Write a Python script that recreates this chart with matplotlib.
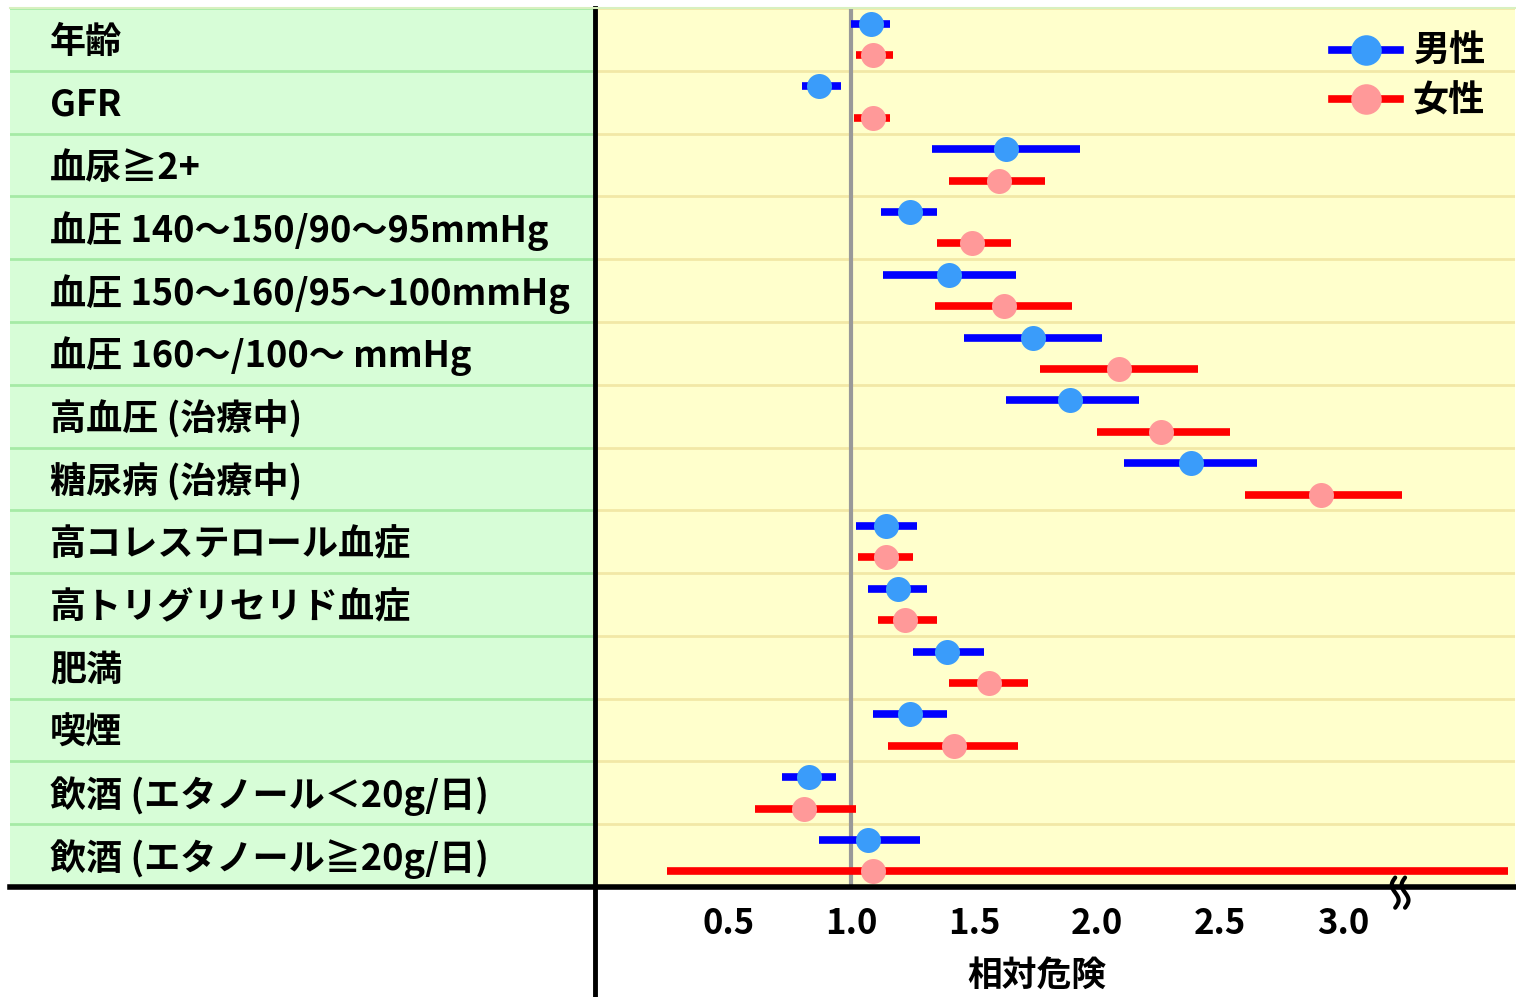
import matplotlib
matplotlib.use("Agg")
import matplotlib.pyplot as plt
import numpy as np
from matplotlib.lines import Line2D

plt.rcParams['font.family'] = ['Noto Sans CJK JP', 'DejaVu Sans']
plt.rcParams['font.weight'] = 'bold'

categories = ["年齢", "GFR", "血尿≧2+", "血圧 140〜150/90〜95mmHg",
              "血圧 150〜160/95〜100mmHg", "血圧 160〜/100〜 mmHg",
              "高血圧 (治療中)", "糖尿病 (治療中)", "高コレステロール血症",
              "高トリグリセリド血症", "肥満", "喫煙",
              "飲酒 (エタノール＜20g/日)", "飲酒 (エタノール≧20g/日)"]

male_rr = [1.08, 0.87, 1.63, 1.24, 1.40, 1.74, 1.89, 2.38, 1.14, 1.19, 1.39, 1.24, 0.83, 1.07]
male_lo = [1.00, 0.80, 1.33, 1.12, 1.13, 1.46, 1.63, 2.11, 1.02, 1.07, 1.25, 1.09, 0.72, 0.87]
male_hi = [1.16, 0.96, 1.93, 1.35, 1.67, 2.02, 2.17, 2.65, 1.27, 1.31, 1.54, 1.39, 0.94, 1.28]

female_rr = [1.09, 1.09, 1.60, 1.49, 1.62, 2.09, 2.26, 2.91, 1.14, 1.22, 1.56, 1.42, 0.81, 1.09]
female_lo = [1.02, 1.01, 1.40, 1.35, 1.34, 1.77, 2.00, 2.60, 1.03, 1.11, 1.40, 1.15, 0.61, 0.25]
female_hi = [1.17, 1.16, 1.79, 1.65, 1.90, 2.41, 2.54, 3.24, 1.25, 1.35, 1.72, 1.68, 1.02, 3.67]

xticks = [0.5, 1.0, 1.5, 2.0, 2.5, 3.0]
xtick_labels = ["0.5", "1.0", "1.5", "2.0", "2.5", "3.0"]
legend_labels = ["男性", "女性"]
xlabel = "相対危険"

W, H = 1516, 997
fig = plt.figure(figsize=(W / 100, H / 100), dpi=100)

top = 8
bottom = 887
ax = fig.add_axes([595 / W, (H - bottom) / H, (1515 - 595) / W, (bottom - top) / H])
axl = fig.add_axes([10 / W, (H - bottom) / H, (593 - 10) / W, (bottom - top) / H])

n = len(categories)
# left label panel
axl.set_facecolor('#d7fdd7')
axl.set_xlim(0, 1)
axl.set_ylim(n, 0)
for i in range(n + 1):
    axl.axhline(i, color='#a6eaa6', lw=2)
for i, c in enumerate(categories):
    axl.text(40 / 583, i + 0.55, c, fontsize=26, fontweight='bold', va='center', ha='left', color='black')
axl.set_xticks([]); axl.set_yticks([])
for s in axl.spines.values():
    s.set_visible(False)

# plot panel
ax.set_facecolor('#ffffcc')
ax.set_xlim(-0.041, 3.699)
ax.set_ylim(n, 0)
for i in range(n + 1):
    ax.axhline(i, color='#f2e8a6', lw=2, zorder=1)
ax.axvline(1.0, color='#999999', lw=3, zorder=2)

y = np.arange(n)
ym = y + 0.25
yf = y + 0.75
ax.hlines(ym, male_lo, male_hi, color='#0000ff', lw=5.5, zorder=3)
ax.plot(male_rr, ym, 'o', color='#3a9cfa', ms=18, mec='none', zorder=4)
ax.hlines(yf, female_lo, female_hi, color='#ff0000', lw=5.5, zorder=3)
ax.plot(female_rr, yf, 'o', color='#ff9999', ms=18, mec='none', zorder=4)

ax.set_yticks([])
ax.set_xticks(xticks)
ax.set_xticklabels(xtick_labels, fontsize=25, fontweight='bold')
ax.tick_params(axis='x', length=0, pad=14)
for s in ax.spines.values():
    s.set_visible(False)

# legend
handles = [Line2D([0], [0], color='#0000ff', lw=5.5, marker='o', ms=22, mfc='#3a9cfa', mec='none'),
           Line2D([0], [0], color='#ff0000', lw=5.5, marker='o', ms=22, mfc='#ff9999', mec='none')]
leg = ax.legend(handles, legend_labels, loc='upper right', frameon=False,
                prop={'size': 26, 'weight': 'bold'}, handlelength=1.9, handletextpad=0.35,
                labelspacing=0.35, borderaxespad=0.3, bbox_to_anchor=(0.995, 1.0))

# frame lines
fig.add_artist(Line2D([10 / W, 1515 / W], [(H - bottom) / H] * 2, color='black', lw=4, zorder=3))
fig.add_artist(Line2D([595 / W] * 2, [0, (H - top) / H], color='black', lw=3.5, zorder=3))
fig.add_artist(Line2D([10 / W, 1515 / W], [(H - top) / H] * 2, color='#d8f0c0', lw=1.5, zorder=3))

# break mark (two small vertical S-curves) drawn above the axis line
t = np.linspace(0, 1, 40)
for dx in (-0.02, 0.02):
    xs = 3.232 + dx - 0.014 * np.sin(t * 2 * np.pi)
    ys = n - 0.15 + t * 0.48
    fig.add_artist(Line2D(xs, ys, transform=ax.transData, color='black', lw=3,
                          zorder=6, solid_capstyle='round'))

fig.text(1037 / W, 1 - 975 / H, xlabel, fontsize=25, fontweight='bold', ha='center', va='center')

fig.savefig('out.png', dpi=100)
